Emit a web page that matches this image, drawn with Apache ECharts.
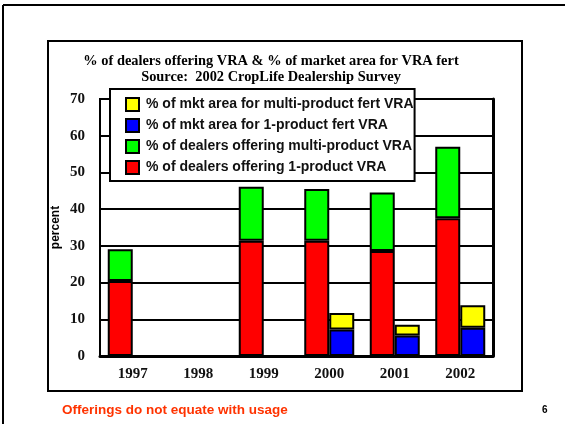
<!DOCTYPE html>
<html>
<head>
<meta charset="utf-8">
<script src="https://cdn.jsdelivr.net/npm/echarts@6/dist/echarts.min.js"></script>
<style>
  html, body { margin: 0; padding: 0; background: #fff; }
  #chart { width: 565px; height: 424px; }
</style>
</head>
<body>
<div id="chart"></div>
<script>
// values (percent)
var years          = ['1997', '1998', '1999', '2000', '2001', '2002'];
var dealersSingle  = [20.4, '-', 31.4, 31.4, 28.6, 37.5];
var dealersMulti   = [8.7, '-', 14.7, 14.1, 15.9, 19.5];
var areaSingle     = ['-', '-', '-', 7.2, 5.6, 7.7];
var areaMulti      = ['-', '-', '-', 4.5, 2.9, 6.1];
var yTicks         = [0, 10, 20, 30, 40, 50, 60, 70];

var names = [
    '% of mkt area for multi-product fert VRA',
    '% of mkt area for 1-product fert VRA',
    '% of dealers offering multi-product VRA',
    '% of dealers offering 1-product VRA'
];

var serif = '"Liberation Serif", "Times New Roman", serif';
var sans  = '"Liberation Sans", Arial, sans-serif';

function barSeries(name, data, stack, color) {
    return {
        name      : name,
        type      : 'bar',
        stack     : stack,
        data      : data,
        barWidth  : 25,
        barGap    : '0%',
        animation : false,
        itemStyle : {
            color       : color,
            borderColor : '#000',
            borderWidth : 2
        }
    };
}

var myChart = echarts.init(document.getElementById('chart'));

var option = {
    backgroundColor: '#fff',
    title: {
        text      : '% of dealers offering VRA & % of market area for VRA fert\nSource:  2002 CropLife Dealership Survey',
        left      : 266,
        top       : 48,
        textAlign : 'center',
        textStyle : {
            fontFamily : serif,
            fontWeight : 'bold',
            fontSize   : 14.4,
            lineHeight : 16,
            color      : '#000'
        }
    },
    legend: {
        orient          : 'vertical',
        left            : 110,
        top             : 89,
        data            : names,
        icon            : 'rect',
        itemWidth       : 13,
        itemHeight      : 13,
        itemGap         : 6,
        padding         : [8, 1, 6, 15],
        backgroundColor : '#fff',
        borderColor     : '#000',
        borderWidth     : 2,
        selectedMode    : false,
        textStyle       : {
            fontFamily : sans,
            fontWeight : 'bold',
            fontSize   : 14,
            lineHeight : 14,
            padding    : [0, 0, 0, 2],
            color      : '#111'
        }
    },
    grid: {
        left        : 100,
        right       : 72,
        top         : 99,
        bottom      : 68,
        show        : true,
        borderColor : '#000',
        borderWidth : 2
    },
    xAxis: {
        type      : 'category',
        data      : years,
        axisLine  : { lineStyle: { color: '#000', width: 3 } },
        axisTick  : { inside: true, alignWithLabel: true, length: 5, lineStyle: { color: '#000', width: 2 } },
        axisLabel : {
            margin     : 11,
            fontFamily : serif,
            fontWeight : 'bold',
            fontSize   : 15,
            color      : '#111'
        }
    },
    yAxis: [{
        type            : 'value',
        min             : yTicks[0],
        max             : yTicks[yTicks.length - 1],
        interval        : 10,
        name            : 'percent',
        nameLocation    : 'middle',
        nameGap         : 38,
        nameRotate      : 90,
        nameMoveOverlap : false,
        nameTextStyle   : { fontFamily: sans, fontWeight: 'bold', fontSize: 12, color: '#000' },
        axisLine        : { show: true, lineStyle: { color: '#000', width: 2 } },
        axisTick        : { show: false },
        splitLine       : { lineStyle: { color: '#000', width: 2 } },
        axisLabel       : {
            margin     : 15,
            fontFamily : serif,
            fontWeight : 'bold',
            fontSize   : 15,
            color      : '#111'
        }
    }, {
        type      : 'value',
        position  : 'right',
        min       : 0,
        max       : 70,
        axisLine  : { show: true, lineStyle: { color: '#000', width: 3 } },
        axisTick  : { show: false },
        axisLabel : { show: false },
        splitLine : { show: false }
    }],
    graphic: [
        // slide frame
        { type: 'line', shape: { x1: 3, y1: 5, x2: 565, y2: 5 }, style: { stroke: '#000', lineWidth: 2 } },
        { type: 'line', shape: { x1: 3, y1: 5, x2: 3, y2: 424 }, style: { stroke: '#000', lineWidth: 2 } },
        // chart box
        { type: 'rect', shape: { x: 48, y: 41, width: 474, height: 350 }, style: { fill: 'none', stroke: '#000', lineWidth: 2 }, z: -1 },
        { type: 'text', left: 62, top: 403, style: { text: 'Offerings do not equate with usage', fill: '#ff3300', font: 'bold 13.5px ' + sans } },
        { type: 'text', left: 542, top: 405, style: { text: '6', fill: '#000', font: 'bold 10px ' + sans } }
    ],
    series: [
        barSeries(names[3], dealersSingle, 'dealers', '#ff0000'),
        barSeries(names[2], dealersMulti, 'dealers', '#00ff00'),
        barSeries(names[1], areaSingle, 'area', '#0000ff'),
        barSeries(names[0], areaMulti, 'area', '#ffff00')
    ]
};

myChart.setOption(option);
</script>
</body>
</html>
